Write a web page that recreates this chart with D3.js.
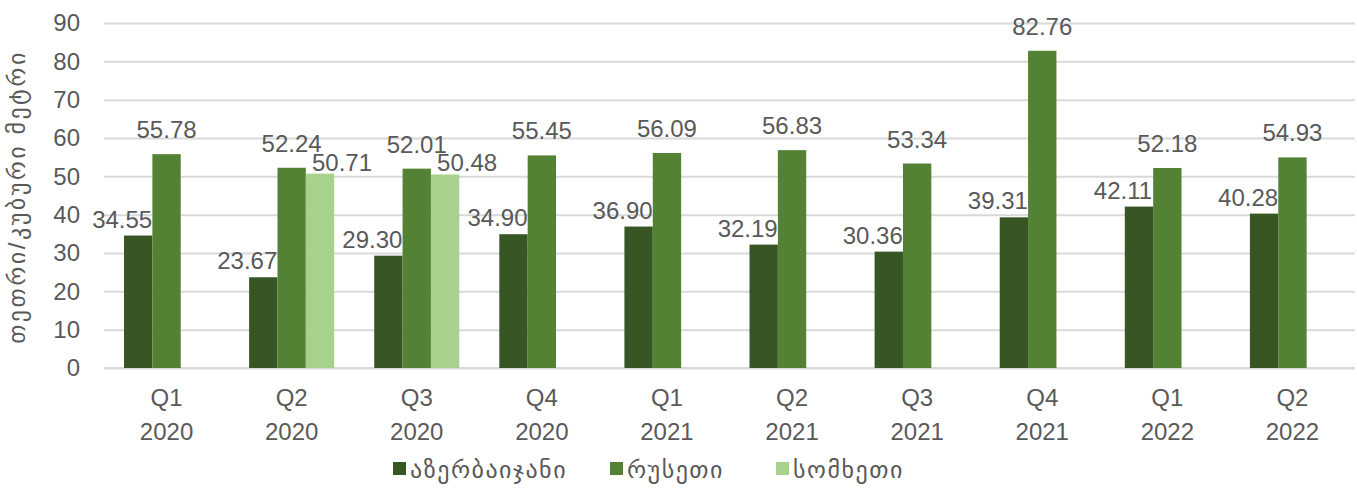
<!DOCTYPE html>
<html><head><meta charset="utf-8">
<script src="https://cdn.jsdelivr.net/npm/d3@7"></script>
<style>
body{margin:0;background:#fff;}
text{font-family:"Liberation Sans","DejaVu Sans",Arial,sans-serif;fill:#595959;}
</style></head>
<body><svg id="c" width="1357" height="491"></svg>
<script>
const quarters = ["Q1","Q2","Q3","Q4","Q1","Q2","Q3","Q4","Q1","Q2"];
const years = ["2020","2020","2020","2020","2021","2021","2021","2021","2022","2022"];
const seriesNames = ["აზერბაიჯანი","რუსეთი","სომხეთი"];
const azerbaijan = [34.55,23.67,29.30,34.90,36.90,32.19,30.36,39.31,42.11,40.28];
const russia = [55.78,52.24,52.01,55.45,56.09,56.83,53.34,82.76,52.18,54.93];
const armenia = [null,50.71,50.48,null,null,null,null,null,null,null];
const yTicks = [0,10,20,30,40,50,60,70,80,90];
const yTitle = "თეთრი/კუბური მეტრი";

const colors = ["#375623","#548235","#a9d18e"];
const labelDx = [-16,0,22];
const labelDy = [8,16,3];
const seriesData = [azerbaijan, russia, armenia];
const cats = quarters.map((q,i)=>q+" "+years[i]);

const svg = d3.select("#c");
const L=104, R=1355, T=23, B=368;
const y = d3.scaleLinear().domain([0,90]).range([B,T]);
const x0 = d3.scaleBand().domain(cats).range([L,R]).paddingInner(0.32).paddingOuter(0.16);
const x1 = d3.scaleBand().domain(seriesNames).range([0,x0.bandwidth()]);

// grid
const yAxis = d3.axisLeft(y).tickValues(yTicks).tickSize(-(R-L)).tickPadding(24);
const gy = svg.append("g").attr("transform",`translate(${L},0)`).call(yAxis);
gy.select(".domain").remove();
gy.selectAll(".tick line").attr("stroke","#d9d9d9").attr("stroke-width",2);
gy.selectAll(".tick text").style("font-size","24px").attr("fill","#595959").attr("x",-24);

// baseline
svg.append("line").attr("x1",L).attr("x2",R).attr("y1",B).attr("y2",B).attr("stroke","#d9d9d9").attr("stroke-width",2);

// bars
seriesData.forEach((vals,si)=>{
  const g = svg.append("g");
  const pts = vals.map((v,i)=>({v,c:cats[i]})).filter(d=>d.v!=null);
  g.selectAll("rect").data(pts).join("rect")
    .attr("x",d=>x0(d.c)+x1(seriesNames[si]))
    .attr("width",x1.bandwidth())
    .attr("y",d=>y(d.v))
    .attr("height",d=>B-y(d.v))
    .attr("fill",colors[si]);
  g.selectAll("text").data(pts).join("text")
    .attr("x",d=>x0(d.c)+x1(seriesNames[si])+x1.bandwidth()/2+labelDx[si])
    .attr("y",d=>y(d.v)-labelDy[si])
    .attr("text-anchor","middle")
    .style("font-size","24px")
    .text(d=>d.v.toFixed(2));
});

// category labels
const gx = svg.append("g");
cats.forEach((c,i)=>{
  const cx = x0(c)+x0.bandwidth()/2;
  gx.append("text").attr("x",cx).attr("y",406).attr("text-anchor","middle").style("font-size","24px").text(quarters[i]);
  gx.append("text").attr("x",cx).attr("y",440).attr("text-anchor","middle").style("font-size","24px").text(years[i]);
});

// y title
svg.append("text").attr("transform","translate(25,197) rotate(-90)").attr("text-anchor","middle")
  .style("font-size","24px").style("letter-spacing","2.5px").text(yTitle);

// legend
const legX = [393,610,776];
seriesNames.forEach((n,i)=>{
  svg.append("rect").attr("x",legX[i]).attr("y",462).attr("width",13).attr("height",13).attr("fill",colors[i]);
  svg.append("text").attr("x",legX[i]+17).attr("y",478).style("font-size","24px").style("letter-spacing","1.5px").text(n);
});
</script></body></html>
